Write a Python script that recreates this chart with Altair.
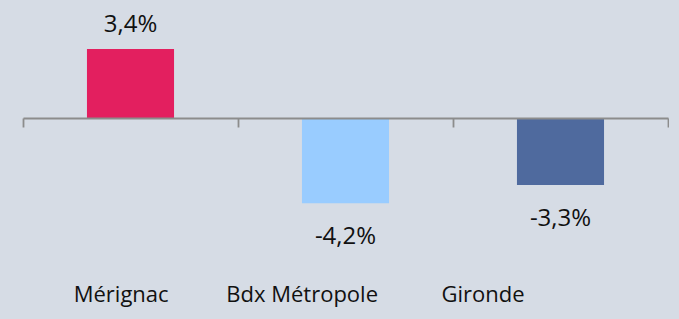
import altair as alt
import pandas as pd
import jinja2

categories = ["Mérignac", "Bdx Métropole", "Gironde"]
values = [3.4, -4.2, -3.3]
colors = ["#E31F5F", "#99CCFF", "#4F6A9E"]

BG = "#D6DCE5"
df = pd.DataFrame({"cat": categories, "value": values})

H = 250
YMIN, YMAX = -6.9, 5.42
zero_offset = -(H - H * YMAX / (YMAX - YMIN))

FONT = "Open Sans"
TXT = "#111111"

y = alt.Y("value:Q", scale=alt.Scale(domain=[YMIN, YMAX], nice=False, zero=False), axis=None)

# band scale for bars
x_bars = alt.X("cat:N", sort=categories, title=None,
               scale=alt.Scale(type="band", domain=categories, paddingInner=0.595, paddingOuter=0.2975),
               axis=None)
# full-step band scale: zero line with ticks at category boundaries, value labels centred
x_step_axis = alt.X("cat:N", sort=categories, title=None,
                    scale=alt.Scale(type="band", domain=categories, paddingInner=0, paddingOuter=0),
                    axis=alt.Axis(labels=False, domain=True, ticks=True, tickBand="extent",
                                  tickSize=9, domainColor="#8C8C8C", tickColor="#8C8C8C",
                                  domainWidth=1.8, tickWidth=1.8, offset=zero_offset,
                                  orient="bottom", zindex=1, grid=False))
x_step = alt.X("cat:N", sort=categories, title=None,
               scale=alt.Scale(type="band", domain=categories, paddingInner=0, paddingOuter=0),
               axis=None)
# category labels row (placed as in the reference, left of the bar centres)
x_cat = alt.X("cat:N", sort=categories, title=None,
              scale=alt.Scale(type="point", domain=categories, padding=0.782, align=0.345),
              axis=alt.Axis(domain=False, ticks=False, tickSize=0, labelAngle=0,
                            labelFontSize=22, labelFont=FONT, labelColor=TXT,
                            labelPadding=26, labelBaseline="top", orient="bottom", grid=False))

base = alt.Chart(df)

bars = base.mark_bar().encode(
    x=x_bars, y=y, y2=alt.datum(0),
    color=alt.Color("cat:N", scale=alt.Scale(domain=categories, range=colors), legend=None),
)

label_calc = "(datum.value < 0 ? '-' : '') + replace(format(abs(datum.value), '.1f'), '.', ',') + '%'"

pos_text = base.transform_filter("datum.value >= 0").transform_calculate(
    lbl=label_calc
).mark_text(font=FONT, fontSize=24, color=TXT, baseline="alphabetic", dy=-17).encode(
    x=x_step_axis, y=y, text="lbl:N"
)
neg_text = base.transform_filter("datum.value < 0").transform_calculate(
    lbl=label_calc
).mark_text(font=FONT, fontSize=24, color=TXT, baseline="alphabetic", dy=41).encode(
    x=x_step, y=y, text="lbl:N"
)
cat_row = base.mark_point(opacity=0).encode(x=x_cat, y=alt.datum(0))

chart = alt.layer(bars, pos_text, neg_text, cat_row).resolve_scale(
    x="independent"
).resolve_axis(x="independent").properties(
    width=645, height=H,
    background=BG,
    padding={"left": 14, "top": 0, "right": 0, "bottom": 20},
).configure_view(stroke=None)

page_template = jinja2.Template("""<!DOCTYPE html>
<html>
<head>
  <style>
    body { background: """ + BG + """; }
    #{{ output_div }}.vega-embed { width: 100%; display: flex; }
  </style>
  <script type="text/javascript" src="{{ base_url }}/vega@{{ vega_version }}"></script>
  <script type="text/javascript" src="{{ base_url }}/vega-lite@{{ vegalite_version }}"></script>
  <script type="text/javascript" src="{{ base_url }}/vega-embed@{{ vegaembed_version }}"></script>
</head>
<body>
  <div id="{{ output_div }}"></div>
  <script>
    (function(vegaEmbed) {
      var spec = {{ spec }};
      var embedOpt = {{ embed_options }};
      const el = document.getElementById('{{ output_div }}');
      vegaEmbed("#{{ output_div }}", spec, embedOpt).catch(function(error) {
        el.innerHTML = '<div style="color:red;">' + error.message + '</div>';
      });
    })(vegaEmbed);
  </script>
</body>
</html>
""")

chart.save("out.html", embed_options={"renderer": "svg", "actions": False}, template=page_template)
